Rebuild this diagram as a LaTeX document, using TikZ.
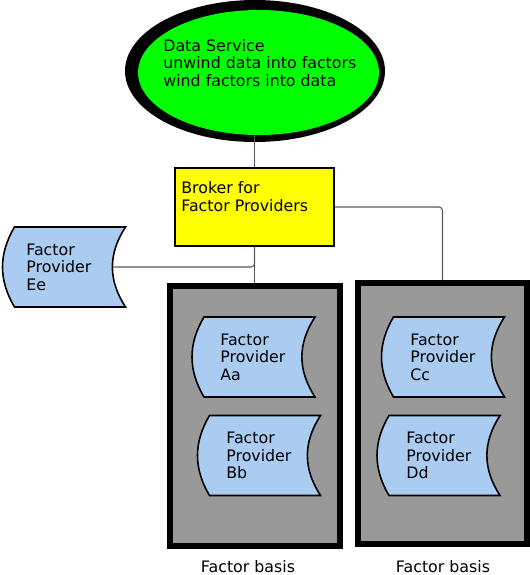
\documentclass[tikz,border=0pt]{standalone}
\usepackage{fontspec}
\setmainfont{DejaVu Sans}
\usetikzlibrary{shapes,shapes.geometric,calc}

\definecolor{servicegreen}{HTML}{00FF00}
\definecolor{brokeryellow}{HTML}{FFFF00}
\definecolor{basisgray}{HTML}{999999}
\definecolor{providerblue}{HTML}{AACCF0}

\begin{document}
\begin{tikzpicture}
	[x=0.02cm,y=-0.02cm,
	every node/.style={inner sep=0pt,font=\fontsize{9}{10}\selectfont,align=left},
	service/.style={shape=ellipse,fill=servicegreen,minimum width=4.82cm,minimum height=2.5cm},
	broker/.style={shape=rectangle,draw,line width=1.1pt,fill=brokeryellow,minimum width=3.18cm,minimum height=1.56cm},
	basis/.style={shape=rectangle,draw,line width=3.4pt,fill=basisgray},
	provider/.style={draw,line width=0.9pt,fill=providerblue},
	link/.style={-,line width=0.6pt,draw=black!65,rounded corners=2pt}]
	\useasboundingbox (0,0) rectangle (530,575);

	\fill[black] (255,71) ellipse [x radius=2.6cm,y radius=1.42cm];
	\node[service] (ds) at (258.5,72.5) {};
	\node[anchor=west] (dstext) at (163,63) {Data Service\\unwind data into factors\\wind factors into data};

	\node[broker] (broker) at (254.5,207) {};
	\node[anchor=west] (brokertext) at (181,196.5) {Broker for\\Factor Providers};

	\node[basis,minimum width=3.4cm,minimum height=5.2cm] (basisL) at (255,416) {};
	\node[basis,minimum width=3.38cm,minimum height=5.22cm] (basisR) at (442.5,413.5) {};
	\node (basisLtext) at (248,566.5) {Factor basis};
	\node (basisRtext) at (443,566.5) {Factor basis};

	\foreach \nm/\cx/\cy/\lx/\lbl in {ee/70/267/26/Ee, aa/259.5/357/220/Aa, bb/265/455.5/226/Bb, cc/449/357/410/Cc, dd/444.5/455.5/406/Dd}
	{
		\pgfmathsetmacro\tw{(\cx+42.5-\lx)*0.02}
		\filldraw[provider] ({\cx-55.5},{\cy-40}) -- ({\cx+55.5},{\cy-40})
			.. controls ({\cx+38},{\cy-13}) and ({\cx+38},{\cy+13}) .. ({\cx+55.5},{\cy+40})
			-- ({\cx-55.5},{\cy+40})
			.. controls ({\cx-71.5},{\cy+13}) and ({\cx-71.5},{\cy-13}) .. cycle;
		\node[anchor=west,text width=\tw cm] (\nm) at (\lx,\cy) {Factor\\Provider\\\lbl};
	};

	\draw[link] (ds.south -| broker.north) -- (broker.north);
	\draw[link] (broker.south) -- (broker.south |- basisL.north);
	\draw[link] (broker.east) -| (basisR.north);
	\draw[link] (ee.east) -| (broker.south);
\end{tikzpicture}
\end{document}
